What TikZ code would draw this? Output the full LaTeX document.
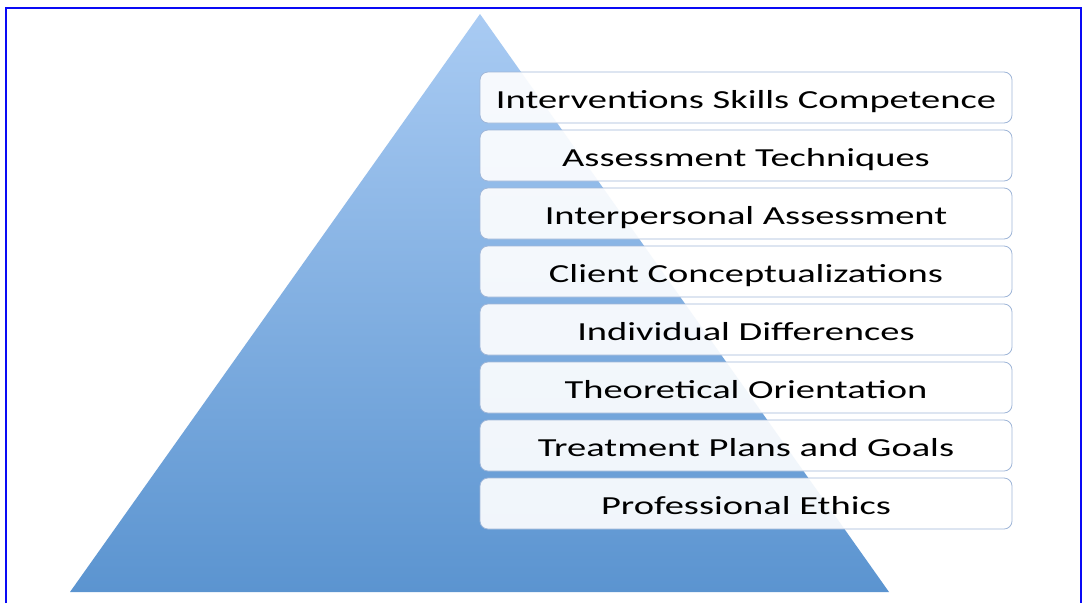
\documentclass[tikz,border=0pt]{standalone}
\usepackage{fontspec}
\newfontfamily\boxfont[FakeStretch=1.48]{Carlito}
\definecolor{triTop}{HTML}{A9CBF3}
\definecolor{triBot}{HTML}{5B94D0}
\definecolor{boxLine}{HTML}{9FB6D8}
\definecolor{frameBlue}{HTML}{0A0AF5}
\tikzset{
  level/.style={draw=boxLine, line width=0.8pt, fill=white, fill opacity=0.91, text opacity=1,
    rounded corners=8pt, minimum width=532pt, minimum height=51pt, inner sep=0pt,
    font=\boxfont\fontsize{26}{30}\selectfont, text=black, text depth=0pt, text height=21pt},
}
\begin{document}
\begin{tikzpicture}[x=1pt,y=-1pt]
\useasboundingbox (0,0) rectangle (1084,603);
\fill[white] (0,0) rectangle (1084,603);
\draw[frameBlue, line width=2.2pt] (6,603) -- (6,8) -- (1081,8) -- (1081,603);
\shade[top color=triTop, bottom color=triBot] (480,14) -- (889,592) -- (70,592) -- cycle;
\foreach \t [count=\i from 0] in {Interventions Skills Competence, Assessment Techniques, Interpersonal Assessment, Client Conceptualizations, Individual Differences, Theoretical Orientation, Treatment Plans and Goals, Professional Ethics}{
  \node[level] (b\i) at (746, 97.5+58*\i) {\t};
}
\end{tikzpicture}
\end{document}
